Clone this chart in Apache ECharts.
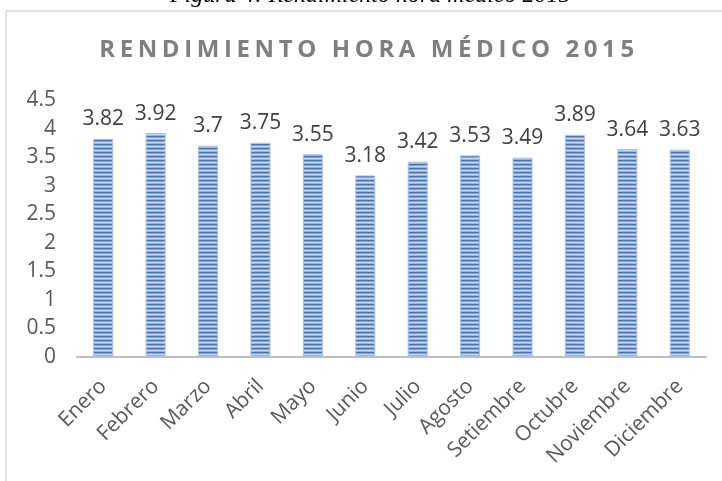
<!DOCTYPE html>
<html><head><meta charset="utf-8">
<script src="https://cdn.jsdelivr.net/npm/echarts@6/dist/echarts.min.js"></script>
<style>html,body{margin:0;padding:0;background:#fff}
#wrap{position:relative;width:722px;height:481px}
#c{width:722px;height:481px}
#t{position:absolute;left:0;width:738px;top:33px;text-align:center;font-family:"Open Sans";font-weight:bold;font-size:24px;line-height:30px;color:#7f7f7f;letter-spacing:4.6px;white-space:nowrap}
</style>
</head><body><div id="wrap"><div id="c"></div><div id="t"></div></div>
<script>
const months = ['Enero','Febrero','Marzo','Abril','Mayo','Junio','Julio','Agosto','Setiembre','Octubre','Noviembre','Diciembre'];
const values = [3.82,3.92,3.7,3.75,3.55,3.18,3.42,3.53,3.49,3.89,3.64,3.63];
const yTicks = [0,0.5,1,1.5,2,2.5,3,3.5,4,4.5];
const chartTitle = 'RENDIMIENTO HORA MÉDICO 2015';
const caption = 'Figura 4: Rendimiento hora médico 2015';

document.getElementById('t').textContent = chartTitle;

const pc = document.createElement('canvas');
pc.width = 4; pc.height = 4;
const g = pc.getContext('2d');
const rows = ['#4673b6','#84a4d5','#c6d6ef','#9ab4de'];
rows.forEach((c,i)=>{g.fillStyle=c;g.fillRect(0,i,4,1);});

const chart = echarts.init(document.getElementById('c'), null, {renderer:'canvas'});
chart.setOption({
  animation:false,
  backgroundColor:'#fff',
  grid:{left:77,right:16,top:100,bottom:124,containLabel:false},
  xAxis:{type:'category',data:months,
    axisLine:{lineStyle:{color:'#bfbfbf',width:2}},
    axisTick:{show:false},
    axisLabel:{rotate:45,interval:0,margin:26,fontFamily:'Open Sans',fontSize:21,color:'#595959'}},
  yAxis:{type:'value',min:0,max:4.5,interval:0.5,
    axisLine:{show:false},axisTick:{show:false},splitLine:{show:false},
    axisLabel:{margin:21,fontFamily:'Open Sans',fontSize:21,color:'#595959',
      formatter:v=>yTicks.includes(v)?String(v):''}},
  series:[{type:'bar',data:values,barWidth:20,
    itemStyle:{color:{image:pc,repeat:'repeat'},borderColor:'#a9c1e6',borderWidth:1},
    label:{show:true,position:'top',distance:9,fontFamily:'Open Sans',fontSize:21,color:'#404040',
      formatter:p=>String(p.value)}}],
  graphic:[
    {type:'rect',shape:{x:6,y:11,width:730,height:500},style:{fill:'none',stroke:'#d9d9d9',lineWidth:1.5},z:-1},
    {type:'text',left:170,top:-16,style:{text:caption,font:'italic 24px "Liberation Serif"',fill:'#000'}}
  ]
});
</script></body></html>
